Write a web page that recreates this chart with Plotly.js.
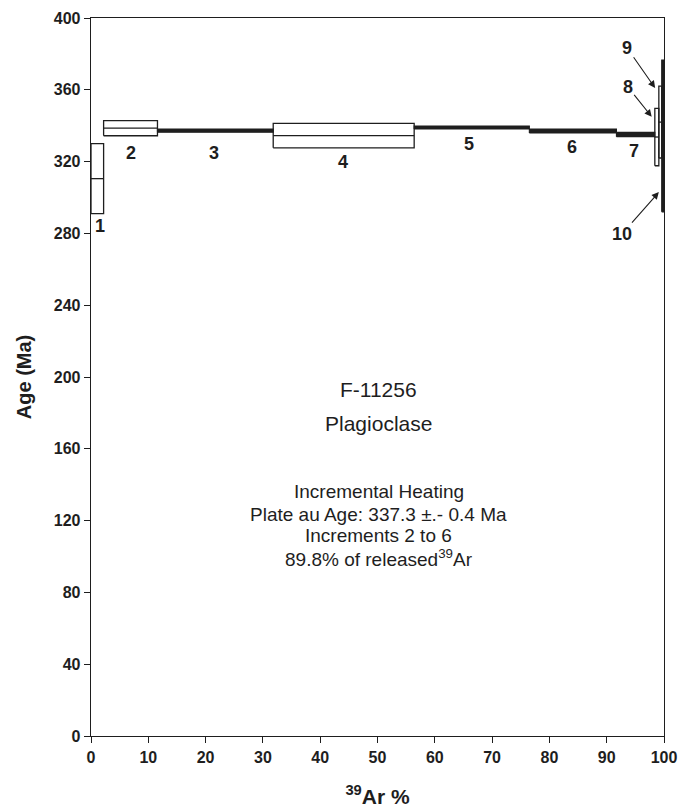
<!DOCTYPE html>
<html><head><meta charset="utf-8">
<script src="https://cdn.plot.ly/plotly-3.0.1.min.js"></script>
<style>body{margin:0;background:#fff}#c{width:681px;height:808px}</style>
</head><body><div id="c"></div>
<script>
// Step heating data
const stepLabels = ['1','2','3','4','5','6','7','8','9','10'];
const cumEnd = [2.2, 11.6, 31.8, 56.4, 76.5, 91.7, 98.4, 99.1, 99.6, 100];
const ages = [310.5, 338.6, 337.3, 334.5, 339.0, 337.1, 335.1, 333.7, 342.0, 334.3];
const errors = [19.5, 4.2, 0.9, 6.8, 0.8, 1.1, 1.2, 16.0, 20.0, 42.3];
const xTicks = [0,10,20,30,40,50,60,70,80,90,100];
const yTicks = [0,40,80,120,160,200,240,280,320,360,400];

const INK = '#1e1e1e';
const traces = [];
let start = 0;
cumEnd.forEach((end, i) => {
  const lo = ages[i] - errors[i], hi = ages[i] + errors[i];
  const solid = errors[i] < 2 || i === 9;
  traces.push({
    x: [start, end, end, start, start],
    y: [lo, lo, hi, hi, lo],
    mode: 'lines', type: 'scatter', hoverinfo: 'skip',
    fill: 'toself', fillcolor: solid ? INK : 'rgba(255,255,255,0)',
    line: {color: INK, width: solid ? 1.1 : 1.3}, showlegend: false
  });
  if (!solid) {
    traces.push({
      x: [start, end], y: [ages[i], ages[i]],
      mode: 'lines', type: 'scatter', hoverinfo: 'skip',
      line: {color: INK, width: 1.3}, showlegend: false
    });
  }
  start = end;
});

const F = 'Liberation Sans, Arial, sans-serif';
const labelPos = [
  {x: 1.6, y: 284}, {x: 7, y: 325}, {x: 21.5, y: 325}, {x: 44, y: 320},
  {x: 66, y: 330}, {x: 84, y: 328}, {x: 94.8, y: 326}
];
const annotations = labelPos.map((p, i) => ({
  x: p.x, y: p.y, xref: 'x', yref: 'y', text: stepLabels[i], showarrow: false,
  font: {family: F, size: 18, color: INK, weight: 'bold'}
}));
const arrows = [
  {i: 8, x: 98.45, y: 361, ax: -28, ay: -40},
  {i: 7, x: 97.85, y: 345, ax: -24, ay: -30},
  {i: 9, x: 99.1, y: 303, ax: -37, ay: 42}
];
arrows.forEach(a => annotations.push({
  x: a.x, y: a.y, xref: 'x', yref: 'y', text: stepLabels[a.i], showarrow: true,
  ax: a.ax, ay: a.ay, arrowhead: 2, arrowsize: 1.3, arrowwidth: 1.1, arrowcolor: INK,
  font: {family: F, size: 18, color: INK, weight: 'bold'}
}));
const centerText = [
  {y: 193, t: 'F-11256', s: 21},
  {y: 174, t: 'Plagioclase', s: 21},
  {y: 136, t: 'Incremental Heating', s: 19},
  {y: 123.6, t: 'Plate au Age: 337.3 ±.- 0.4 Ma', s: 19},
  {y: 111.8, t: 'Increments 2 to 6', s: 19},
  {y: 99.2, t: '89.8% of released<sup>39</sup>Ar', s: 19}
];
centerText.forEach(c => annotations.push({
  x: 50.2, y: c.y, xref: 'x', yref: 'y', text: c.t, showarrow: false,
  font: {family: F, size: c.s, color: INK}
}));

const layout = {
  width: 681, height: 808,
  margin: {l: 91, r: 17, t: 18, b: 72},
  paper_bgcolor: '#fff', plot_bgcolor: '#fff',
  font: {family: F, color: INK},
  xaxis: {
    range: [0, 100], tickvals: xTicks, ticktext: xTicks.map(String),
    showgrid: false, zeroline: false, showline: true, mirror: true,
    linecolor: INK, linewidth: 1.3, ticks: 'outside', ticklen: 6, tickcolor: INK,
    tickfont: {family: F, size: 16, color: INK, weight: 'bold'},
    title: {text: '<sup>39</sup>Ar %', font: {family: F, size: 21, color: INK, weight: 'bold'}, standoff: 24}
  },
  yaxis: {
    range: [0, 400], tickvals: yTicks, ticktext: yTicks.map(String),
    showgrid: false, zeroline: false, showline: true, mirror: true,
    linecolor: INK, linewidth: 1.3, ticks: 'outside', ticklen: 6, tickcolor: INK,
    tickfont: {family: F, size: 16, color: INK, weight: 'bold'},
    title: {text: 'Age (Ma)', font: {family: F, size: 20, color: INK, weight: 'bold'}, standoff: 16}
  },
  annotations: annotations
};
Plotly.newPlot('c', traces, layout, {staticPlot: true});
</script></body></html>
